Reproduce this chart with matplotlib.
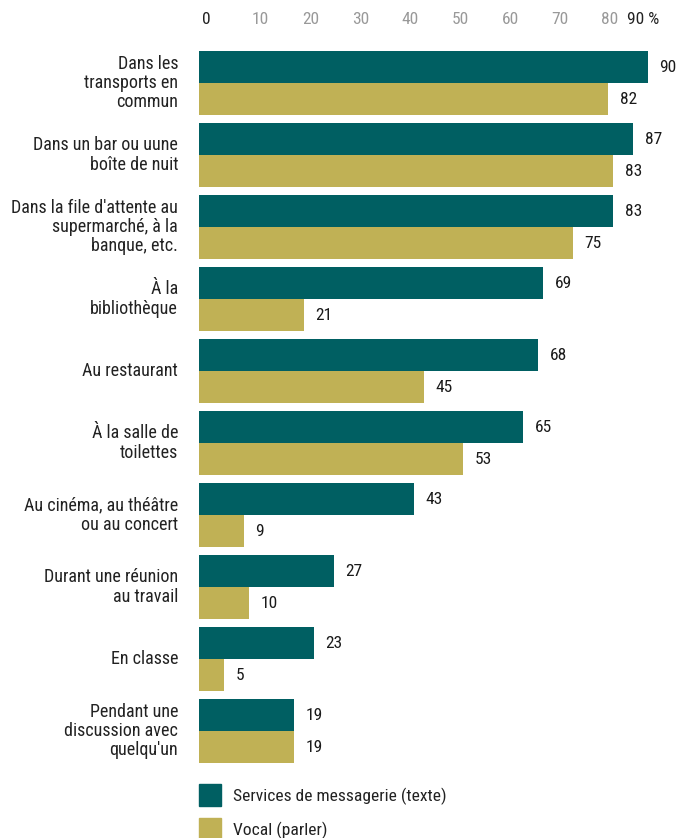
import numpy as np
from matplotlib import pyplot as plt

plt.rcParams['font.family'] = ['Roboto Condensed', 'Roboto', 'DejaVu Sans']

categories = ["Dans les\ntransports en\ncommun",
              "Dans un bar ou uune\nboîte de nuit",
              "Dans la file d'attente au\nsupermarché, à la\nbanque, etc.",
              "À la\nbibliothèque",
              "Au restaurant",
              "À la salle de\ntoilettes",
              "Au cinéma, au théâtre\nou au concert",
              "Durant une réunion\nau travail",
              "En classe",
              "Pendant une\ndiscussion avec\nquelqu'un"]
texte = [90, 87, 83, 69, 68, 65, 43, 27, 23, 19]
vocal = [82, 83, 75, 21, 45, 53, 9, 10, 5, 19]
ticks = [0, 10, 20, 30, 40, 50, 60, 70, 80, 90]
tick_labels = ['0', '10', '20', '30', '40', '50', '60', '70', '80', '90 %']
series_names = ['Services de messagerie (texte)', 'Vocal (parler)']

c_texte = '#005f62'
c_vocal = '#c0b155'

W, H = 678, 838
fig = plt.figure(figsize=(W / 100, H / 100), dpi=100)
# axes placed in pixel terms: left 199, top 40, bottom 770
ax = fig.add_axes([199 / W, (H - 770) / H, (W - 199) / W, 730 / H])

y = np.arange(len(categories))
h = 32 / 72
ax.barh(y - h / 2, texte, height=h, color=c_texte)
ax.barh(y + h / 2, vocal, height=h, color=c_vocal)

for yi, v in zip(y, texte):
    ax.text(v + 2.3, yi - h / 2, str(v), va='center', ha='left', fontsize=12.5, color='#1a1a1a')
for yi, v in zip(y, vocal):
    ax.text(v + 2.3, yi + h / 2, str(v), va='center', ha='left', fontsize=12.5, color='#1a1a1a')

ax.set_xlim(0, (W - 199) / 4.99)
ax.set_ylim(9 + 39 / 72, -43 / 72)
ax.axis('off')

# category labels
for yi, c in zip(y, categories):
    ax.text(-4.2, yi, c, ha='right', va='center', fontsize=13, color='#222222', linespacing=1.08)

# top tick labels
for t, lab in zip(ticks, tick_labels):
    col = '#222222' if lab in ('0', '90 %') else '#999999'
    xpos = t + 0.6 if t < 90 else 85.8
    ax.text(xpos, -43 / 72 - 20 / 72, lab, ha='left', va='center', fontsize=12.5, color=col)

# legend
ax.add_patch(plt.Rectangle((0, 9 + 39 / 72 + 14 / 72), 22 / 4.99, 22 / 72, color=c_texte, clip_on=False))
ax.add_patch(plt.Rectangle((0, 9 + 39 / 72 + 48 / 72), 22 / 4.99, 22 / 72, color=c_vocal, clip_on=False))
ax.text(34 / 4.99, 9 + 39 / 72 + 26 / 72, series_names[0], va='center', ha='left', fontsize=12.6, color='#222222')
ax.text(34 / 4.99, 9 + 39 / 72 + 60 / 72, series_names[1], va='center', ha='left', fontsize=12.6, color='#222222')

fig.savefig('out.png', dpi=100)
